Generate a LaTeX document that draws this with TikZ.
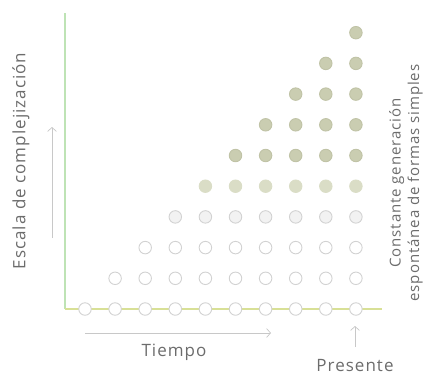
\documentclass[tikz,border=0pt]{standalone}
\usepackage{fontspec}
\setmainfont{Open Sans}
\newfontfamily\spaced[LetterSpace=6]{Open Sans}
\usetikzlibrary{arrows.meta}
\definecolor{txt}{HTML}{6C6C6C}
\definecolor{arrowgrey}{HTML}{C8C8C8}
\definecolor{vaxis}{HTML}{BEE3B5}
\definecolor{haxis}{HTML}{D8E096}
\definecolor{dotfill}{HTML}{CACDB1}
\definecolor{dotline}{HTML}{C0C3A6}
\definecolor{dotlight}{HTML}{DADDC6}
\definecolor{ringline}{HTML}{D2D2D2}
\tikzset{
  ring/.style={circle,draw=ringline,fill=white,line width=0.9pt,minimum size=12.5pt,inner sep=0pt},
  greyring/.style={circle,draw=ringline,fill=black!5,line width=0.9pt,minimum size=12.5pt,inner sep=0pt},
  lightdot/.style={circle,draw=dotlight,fill=dotlight,line width=0.9pt,minimum size=12.5pt,inner sep=0pt},
  dot/.style={circle,draw=dotline,fill=dotfill,line width=0.9pt,minimum size=12.5pt,inner sep=0pt},
  thinarrow/.style={draw=arrowgrey,line width=0.7pt,-{Straight Barb[length=4pt,width=9pt]}},
  label/.style={text=txt,inner sep=0pt}
}
\begin{document}
\begin{tikzpicture}[x=1pt,y=-1pt]
\useasboundingbox (0,0) rectangle (438,376);
% axes
\coordinate (vtop) at (65,13);
\coordinate (origin) at (65,309);
\coordinate (hend) at (382,309);
\draw[vaxis,line width=1.1pt] (vtop) -- (origin);
\draw[haxis,line width=1.3pt] (origin) -- (hend);
% dots
\foreach \j in {0,...,9}{
  \foreach \i in {\j,...,9}{
    \pgfmathsetmacro{\xx}{85+30.1*\i}
    \pgfmathsetmacro{\yy}{309-30.7*\j}
    \ifnum\j<3
      \node[ring] (c-\i-\j) at (\xx,\yy) {};
    \else\ifnum\j=3
      \node[greyring] (c-\i-\j) at (\xx,\yy) {};
    \else\ifnum\j=4
      \node[lightdot] (c-\i-\j) at (\xx,\yy) {};
    \else
      \node[dot] (c-\i-\j) at (\xx,\yy) {};
    \fi\fi\fi
  }
}
% arrows
\coordinate (va0) at (52,238);
\coordinate (va1) at (52,127);
\draw[thinarrow] (va0) -- (va1);
\coordinate (ha0) at (85,333);
\coordinate (ha1) at (271,333);
\draw[thinarrow] (ha0) -- (ha1);
\coordinate (pa0) at (355,347);
\coordinate (pa1) at (355,326);
\draw[thinarrow] (pa0) -- (pa1);
% labels
\node[label,rotate=90,font=\spaced\fontsize{17}{20}\selectfont] (escala) at (21,161) {Escala de complejización};
\node[label,font=\spaced\fontsize{17}{20}\selectfont] (tiempo) at (174,352) {Tiempo};
\node[label,font=\spaced\fontsize{17}{20}\selectfont] (presente) at (355,366) {Presente};
\node[label,rotate=90,align=center,font=\spaced\fontsize{15}{18.5}\selectfont] (constante) at (406,183) {Constante generación\\espontánea de formas simples};
\end{tikzpicture}
\end{document}
